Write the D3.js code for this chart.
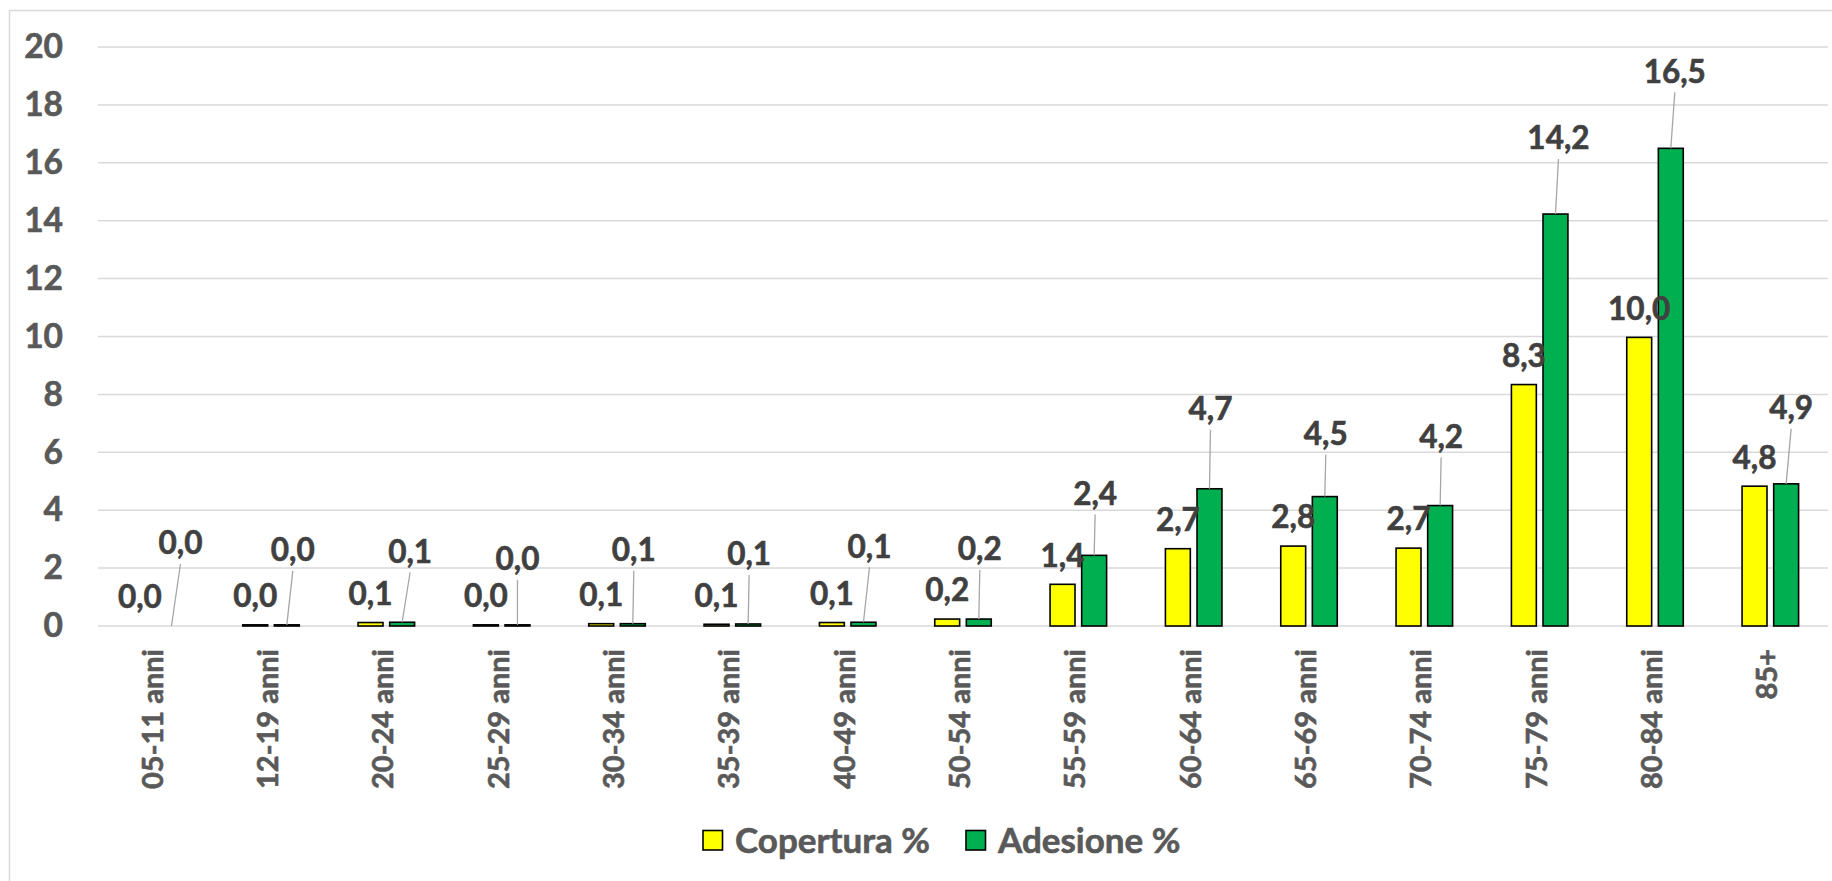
<!DOCTYPE html>
<html>
<head>
<meta charset="utf-8">
<script src="https://cdn.jsdelivr.net/npm/d3@7"></script>
<style>
  html, body { margin: 0; padding: 0; background: #ffffff; }
  svg { display: block; }
  text { font-family: Lato, "Open Sans", sans-serif; font-weight: 700; }
</style>
</head>
<body>
<svg id="chart" width="1832" height="881"></svg>
<script>
// ---- data ----
const categories = ["05-11 anni","12-19 anni","20-24 anni","25-29 anni","30-34 anni","35-39 anni",
  "40-49 anni","50-54 anni","55-59 anni","60-64 anni","65-69 anni","70-74 anni","75-79 anni","80-84 anni","85+"];
const copertura = [0.0, 0.04, 0.12, 0.04, 0.08, 0.06, 0.12, 0.24, 1.44, 2.67, 2.76, 2.69, 8.34, 9.97, 4.83];
const adesione  = [0.0, 0.04, 0.13, 0.04, 0.08, 0.07, 0.13, 0.24, 2.44, 4.74, 4.47, 4.16, 14.23, 16.5, 4.91];
const seriesNames = ["Copertura %", "Adesione %"];
const yTicks = [0, 2, 4, 6, 8, 10, 12, 14, 16, 18, 20];
// manual label placement for Adesione labels (pixel offsets from bar top)
const adesioneLabelDx = [9, 6, 8, 0, 1, 1, 6, 1, 1, 1, 1, 1, 3, 4, 5];
const adesioneLabelDy = [-83, -75, -71, -66, -74, -70, -76, -70, -62, -80, -63, -69, -76, -77, -76];

// ---- layout ----
const svg = d3.select("#chart");
const colors = ["#FFFF00", "#00B050"];
const plot = { left: 98, right: 1828, top: 47, bottom: 626 };

// frame
svg.append("rect").attr("x", 9.5).attr("y", 10.5).attr("width", 1840).attr("height", 900)
  .attr("fill", "none").attr("stroke", "#d9d9d9").attr("stroke-width", 1.5);

const x = d3.scaleBand().domain(categories).range([plot.left, plot.right]).padding(0);
const y = d3.scaleLinear().domain([0, 20]).range([plot.bottom, plot.top]);
const bw = x.bandwidth();
const barW = bw * 0.216;
const off = bw * 0.137;

// gridlines
svg.append("g").selectAll("line").data(yTicks).join("line")
  .attr("x1", plot.left).attr("x2", plot.right)
  .attr("y1", d => y(d)).attr("y2", d => y(d))
  .attr("stroke", "#d9d9d9").attr("stroke-width", 1.5);

function heavy(sel, color) {
  sel.attr("fill", color).attr("stroke", color).attr("stroke-width", 0.6)
    .attr("font-family", "Lato, 'Open Sans', sans-serif").attr("font-weight", 700);
}

// y axis labels
const yAxis = d3.axisLeft(y).tickValues(yTicks).tickSize(0).tickPadding(0).tickFormat(d3.format("d"));
const yg = svg.append("g").attr("transform", "translate(63,0)").call(yAxis);
yg.select(".domain").remove();
yg.selectAll("text").attr("font-size", 33.5).call(heavy, "#595959");

// x axis labels
const xAxis = d3.axisBottom(x).tickSize(0).tickPadding(0);
const xg = svg.append("g").attr("transform", `translate(0,${plot.bottom})`).call(xAxis);
xg.select(".domain").remove();
xg.selectAll("text")
  .attr("font-size", 29).call(heavy, "#595959")
  .attr("text-anchor", "end")
  .attr("transform", "translate(-3,23) rotate(-90)")
  .attr("x", 0).attr("y", 0).attr("dy", "0.35em");

const fmt = v => d3.format(".1f")(v).replace(".", ",");

const rows = categories.map((c, i) => ({ c, i, a: copertura[i], b: adesione[i] }));

// bars
const gBars = svg.append("g");
gBars.selectAll("rect.cop").data(rows.filter(d => d.a > 0)).join("rect").attr("class", "cop")
  .attr("x", d => x(d.c) + bw / 2 - off - barW / 2)
  .attr("y", d => y(d.a)).attr("width", barW).attr("height", d => y(0) - y(d.a))
  .attr("fill", colors[0]).attr("stroke", "#000").attr("stroke-width", 1.6);
gBars.selectAll("rect.ade").data(rows.filter(d => d.b > 0)).join("rect").attr("class", "ade")
  .attr("x", d => x(d.c) + bw / 2 + off - barW / 2)
  .attr("y", d => y(d.b)).attr("width", barW).attr("height", d => y(0) - y(d.b))
  .attr("fill", colors[1]).attr("stroke", "#000").attr("stroke-width", 1.6);

// leader lines for Adesione labels
svg.append("g").selectAll("line").data(rows).join("line")
  .attr("x1", d => x(d.c) + bw / 2 + off)
  .attr("y1", d => y(d.b))
  .attr("x2", d => x(d.c) + bw / 2 + off + adesioneLabelDx[d.i])
  .attr("y2", d => y(d.b) + adesioneLabelDy[d.i] + 21)
  .attr("stroke", "#a6a6a6").attr("stroke-width", 1.3);

// data labels
const gLab = svg.append("g").attr("font-size", 31.5);
gLab.selectAll("text.cop").data(rows).join("text").attr("class", "cop")
  .attr("x", d => x(d.c) + bw / 2 - off)
  .attr("y", d => y(d.a) - 29).attr("dy", "0.36em").attr("text-anchor", "middle")
  .call(heavy, "#404040")
  .text(d => fmt(d.a));
gLab.selectAll("text.ade").data(rows).join("text").attr("class", "ade")
  .attr("x", d => x(d.c) + bw / 2 + off + adesioneLabelDx[d.i])
  .attr("y", d => y(d.b) + adesioneLabelDy[d.i]).attr("dy", "0.36em").attr("text-anchor", "middle")
  .call(heavy, "#404040")
  .text(d => fmt(d.b));

// legend
const legendX = [703, 966];
const lg = svg.append("g");
seriesNames.forEach((name, k) => {
  lg.append("rect").attr("x", legendX[k]).attr("y", 830.5).attr("width", 19.5).attr("height", 19.5)
    .attr("fill", colors[k]).attr("stroke", "#000").attr("stroke-width", 1.6);
  lg.append("text").attr("x", legendX[k] + 32).attr("y", 840).attr("dy", "0.36em")
    .attr("font-size", 35).call(heavy, "#595959").text(name);
});
</script>
</body>
</html>
